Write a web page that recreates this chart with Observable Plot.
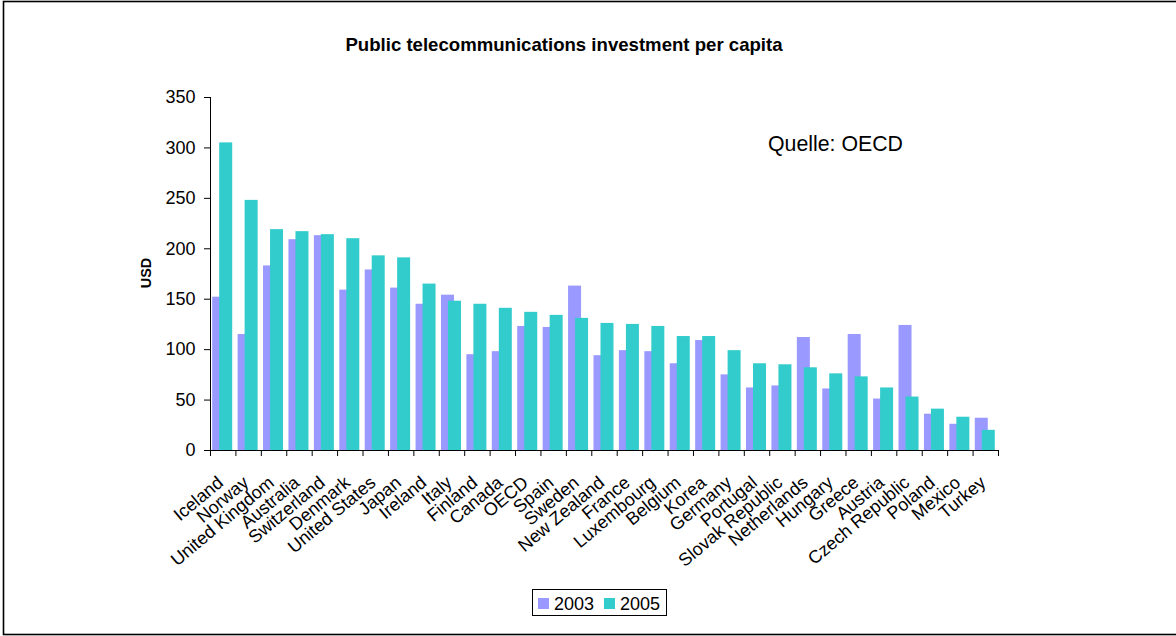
<!DOCTYPE html>
<html><head><meta charset="utf-8">
<script src="https://cdn.jsdelivr.net/npm/d3@7"></script>
<script src="https://cdn.jsdelivr.net/npm/@observablehq/plot@0.6"></script>
<style>body{margin:0;background:#fff;} svg{display:block;}</style>
</head><body><div id="chart"></div>
<script>
const categories = ["Iceland","Norway","United Kingdom","Australia","Switzerland","Denmark","United States","Japan","Ireland","Italy","Finland","Canada","OECD","Spain","Sweden","New Zealand","France","Luxembourg","Belgium","Korea","Germany","Portugal","Slovak Republic","Netherlands","Hungary","Greece","Austria","Czech Republic","Poland","Mexico","Turkey"];
const values2003 = [152,115,183,209,213,159,179,161,145,154,95,98,123,122,163,94,99,98,86,109,75,62,64,112,61,115,51,124,36,26,32];
const values2005 = [305,248,219,217,214,210,193,191,165,148,145,141,137,134,131,126,125,123,113,113,99,86,85,82,76,73,62,53,41,33,20];
const seriesNames = ["2003","2005"];
const seriesColors = ["#9999FF","#33CCCC"];
const yTicks = [0,50,100,150,200,250,300,350];
const chartTitle = "Public telecommunications investment per capita";
const yLabel = "USD";
const sourceNote = "Quelle: OECD";

const rows = categories.map((c,i)=>({country:c, v2003: values2003[i], v2005: values2005[i]}));
const W=1176, H=636, mL=210, mR=178, mT=97, mB=186;
const bw = (W-mL-mR)/categories.length;
const font = "Arial, 'Liberation Sans', sans-serif";

const chart = Plot.plot({
  width: W, height: H, marginLeft: mL, marginRight: mR, marginTop: mT, marginBottom: mB,
  style: {fontFamily: font, fontSize: "18px", color: "#000", background: "#fff"},
  x: {type: "band", domain: categories, padding: 0, round: false, axis: null},
  y: {domain: [0,350], axis: null},
  marks: [
    Plot.barY(rows, {x: "country", y: "v2003", fill: seriesColors[0], insetLeft: 2.2, insetRight: bw-15.2}),
    Plot.barY(rows, {x: "country", y: "v2005", fill: seriesColors[1], insetLeft: 9.2, insetRight: bw-22.2}),
    Plot.axisY({ticks: yTicks, tickSize: 6, tickPadding: 9, fontSize: 18, stroke: "#000", tickFormat: d => String(d)}),
    Plot.ruleX([categories[0]], {x: d => d, dx: -bw/2, y1: d => 0, y2: d => 350, stroke: "#000"}),
    Plot.ruleY([0], {stroke: "#000"}),
    Plot.ruleX(categories, {x: d => d, dx: bw/2, y1: d => 0, y2: d => 0, insetBottom: -6, stroke: "#000"}),
    Plot.ruleX([categories[0]], {x: d => d, dx: -bw/2, y1: d => 0, y2: d => 0, insetBottom: -6, stroke: "#000"}),
    Plot.text(categories, {x: d => d, y: d => 0, text: d => d, rotate: -40, textAnchor: "end", lineAnchor: "middle", dx: -2.5, dy: 29.6, fontSize: 18, fill: "#000"})
  ]
});

const svg = d3.select(chart);
svg.append("rect").attr("x", 3.5).attr("y", 1.5).attr("width", 1185).attr("height", 633)
  .attr("fill", "none").attr("stroke", "#000").attr("stroke-width", 1.6);
svg.append("text").attr("x", 564).attr("y", 51).attr("text-anchor", "middle")
  .attr("font-weight", "bold").attr("font-size", 18.6).attr("fill", "#000").text(chartTitle);
svg.append("text").attr("transform", "translate(151,273) rotate(-90)").attr("text-anchor", "middle")
  .attr("font-weight", "bold").attr("font-size", 14.5).attr("fill", "#000").text(yLabel);
svg.append("text").attr("x", 768).attr("y", 150.5).attr("text-anchor", "start")
  .attr("font-size", 21.3).attr("fill", "#000").text(sourceNote);
const lg = svg.append("g").attr("text-anchor", "start");
lg.append("rect").attr("x", 532.5).attr("y", 589.5).attr("width", 134).attr("height", 26)
  .attr("fill", "#fff").attr("stroke", "#000").attr("stroke-width", 1);
const lx = [538, 604];
seriesNames.forEach((n, i) => {
  lg.append("rect").attr("x", lx[i]).attr("y", 598).attr("width", 11).attr("height", 11).attr("fill", seriesColors[i]);
  lg.append("text").attr("x", lx[i] + 16).attr("y", 609.5).attr("text-anchor", "start")
    .attr("font-size", 18).attr("fill", "#000").text(n);
});
document.getElementById("chart").appendChild(chart);
</script>
</body></html>
